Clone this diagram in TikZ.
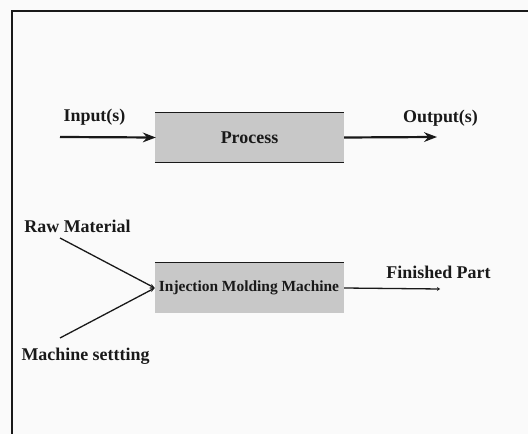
\documentclass[tikz,border=0pt]{standalone}
\usepackage{fontspec}
\setmainfont{Liberation Serif}
\usetikzlibrary{arrows.meta,positioning,calc}
\definecolor{pagebg}{RGB}{250,250,250}
\definecolor{boxgray}{RGB}{200,200,200}
\definecolor{inkdark}{RGB}{25,25,25}

\begin{document}
\begin{tikzpicture}[x=1bp, y=-1bp, >=Stealth,
  lbl/.style={font=\fontsize{18}{20}\selectfont\bfseries, text=inkdark, inner sep=0pt},
  procbox/.style={fill=boxgray, minimum width=189bp, minimum height=49bp, inner sep=0pt},
  bigarrow/.style={->, inkdark, line width=2.2bp, shorten >=-1bp},
  thinarrow/.style={->, inkdark, line width=1.3bp, >={Stealth[length=5bp,width=4bp]}}]

% --- page and frame ---
\fill[pagebg] (0,0) rectangle (528,434);
\useasboundingbox (0,0) rectangle (528,434);
\draw[inkdark, line width=1.3bp] (528,11) -- (12,11) -- (12,434);

% --- general process ---
\node[procbox] (proc) at (249.5,137.5) {};
\node[lbl] (proctxt) at (proc.center) {Process};
\draw[inkdark, line width=1.3bp] (proc.north west) -- (proc.north east);
\draw[inkdark, line width=1.3bp] (proc.south west) -- (proc.south east);

\node[lbl] (input) at (94.5,117) {Input(s)};
\node[lbl] (output) at (440.5,118) {Output(s)};
\coordinate (inend) at (60,137);
\coordinate (outend) at (436,137);
\draw[bigarrow] (inend) -- (proc.west);
\draw[bigarrow] (proc.east) -- (outend);

% --- injection molding ---
\node[procbox, minimum height=50bp] (imm) at (249.5,288) {};
\node[font=\fontsize{15.5}{18}\selectfont\bfseries, text=inkdark, inner sep=0pt] (immtxt) at (249,288) {Injection Molding Machine};
\draw[inkdark, line width=1.3bp] (imm.north west) -- (imm.north east);

\node[lbl] (raw) at (77.5,226) {Raw Material};
\node[lbl] (setting) at (85.5,356) {Machine settting};
\node[lbl] (finished) at (438.5,272) {Finished Part};
\coordinate (rawend) at (60,238);
\coordinate (setend) at (60,338);
\coordinate (finend) at (440,289);
\draw[thinarrow] (rawend) -- (imm.west);
\draw[thinarrow] (setend) -- (imm.west);
\draw[thinarrow, >={Stealth[length=3bp,width=4bp]}] (imm.east) -- (finend);
\end{tikzpicture}
\end{document}
